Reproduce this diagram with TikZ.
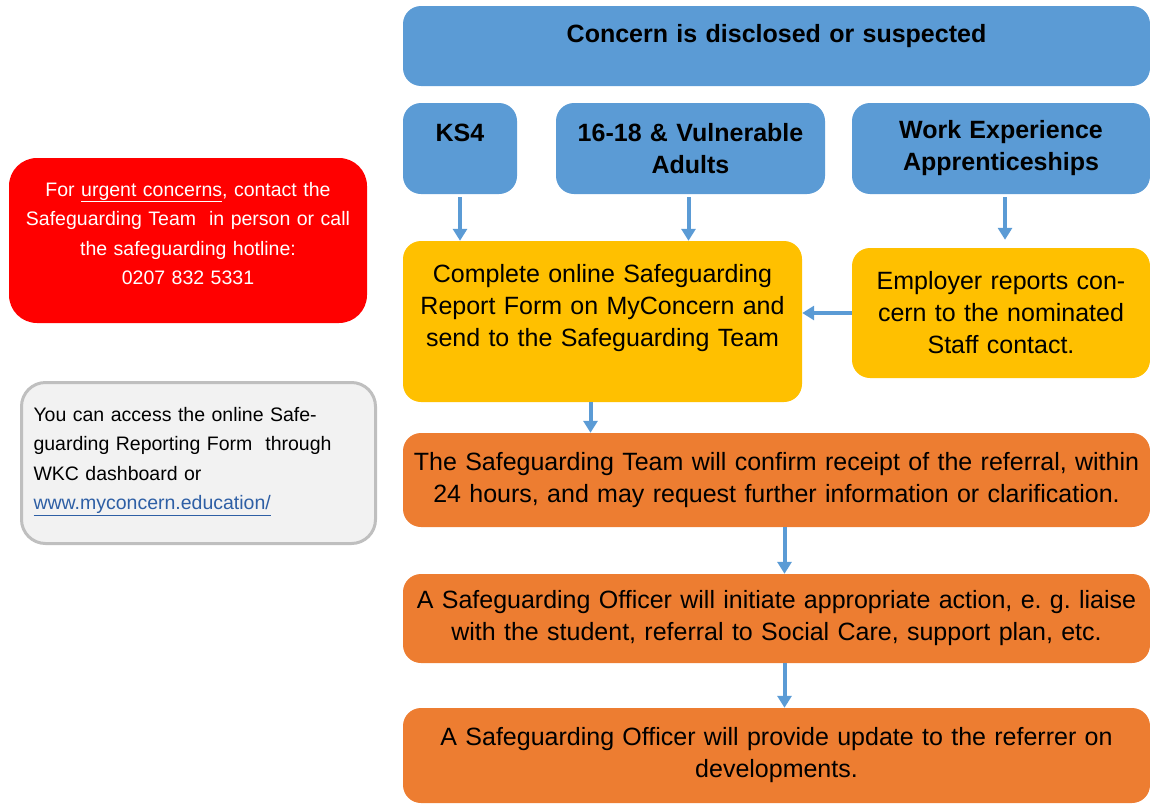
\documentclass[tikz,border=0pt]{standalone}
\usepackage{fontspec}
\setmainfont{Liberation Sans}
\usetikzlibrary{arrows.meta,positioning}
\definecolor{sgblue}{HTML}{5B9BD5}
\definecolor{sgyellow}{HTML}{FFC000}
\definecolor{sgorange}{HTML}{ED7D31}
\definecolor{sgred}{HTML}{FF0000}
\definecolor{sggrey}{HTML}{F2F2F2}
\definecolor{sgedge}{HTML}{BFBFBF}
\definecolor{sglink}{HTML}{2E5FA5}

\begin{document}
\begin{tikzpicture}[x=1pt,y=-1pt,
      big/.style={font=\fontsize{25}{32}\selectfont},
      head/.style={font=\fontsize{25}{32}\selectfont\bfseries},
      small/.style={font=\fontsize{19.5}{29.5}\selectfont},
      b/.style={rounded corners=18pt,inner xsep=4pt,inner ysep=0pt,align=center},
      a/.style={-{Triangle[width=14pt,length=12pt]},line width=4pt,sgblue}]
      \useasboundingbox (0,0) rectangle (1150,803);
      % top row
      \node[b,head,fill=sgblue,text width=739pt,minimum height=80pt] (top) at (776.5,46) {Concern is disclosed or suspected\\[-6pt]~};
      \node[b,head,fill=sgblue,text width=106pt,minimum height=91pt] (ks4) at (460,148.5) {KS4\\~};
      \node[b,head,fill=sgblue,text width=261pt,minimum height=91pt] (adults) at (690.5,148.5) {16-18 \& Vulnerable\\Adults};
      \node[b,head,fill=sgblue,text width=290pt,minimum height=91pt] (work) at (1001,148.5) {Work Experience\\Apprenticeships};
      % reporting
      \node[b,big,fill=sgyellow,text width=391pt,minimum height=161pt] (online) at (602.5,321.5) {Complete online Safeguarding\\Report Form on MyConcern and\\send to the Safeguarding Team\\~};
      \node[b,big,fill=sgyellow,text width=290pt,minimum height=130pt] (employer) at (1001,313) {Employer reports con-\\cern to the nominated\\Staff contact.};
      % follow-up
      \node[b,big,fill=sgorange,text width=739pt,minimum height=94pt] (confirm) at (776.5,480) {The Safeguarding Team will confirm receipt of the referral, within\\24 hours, and may request further information or clarification.};
      \node[b,big,fill=sgorange,text width=739pt,minimum height=89pt] (action) at (776.5,618.5) {A Safeguarding Officer will initiate appropriate action, e.\ g.\ liaise\\with the student, referral to Social Care, support plan, etc.};
      \node[b,big,fill=sgorange,text width=739pt,minimum height=95pt] (update) at (776.5,755.5) {A Safeguarding Officer will provide update to the referrer on\\developments.};
      % side notes
      \node[b,small,rounded corners=28pt,fill=sgred,text=white,text width=350pt,minimum height=165pt] (urgent) at (188,240.5) {For \underline{urgent concerns}, contact the\\Safeguarding Team\ \ in person or call\\the safeguarding hotline:\\0207 832 5331\\[-15pt]\mbox{}};
      \node[b,small,rounded corners=24pt,draw=sgedge,line width=3pt,fill=sggrey,align=left,inner xsep=12pt,text width=330pt,minimum height=161pt] (access) at (198.5,463) {You can access the online Safe-\\guarding Reporting Form\ \ through\\WKC dashboard or\\\textcolor{sglink}{\underline{www.myconcern.education/}}\\[-20pt]\mbox{}};
      % arrows
      \draw[a,shorten <=3pt] (ks4.south) -- (ks4.south |- online.north);
      \draw[a,shorten <=3pt] ([xshift=-2pt]adults.south) -- ([xshift=-2pt]adults.south |- online.north);
      \draw[a,shorten <=3pt,shorten >=8pt] ([xshift=4pt]work.south) -- ([xshift=4pt]work.south |- employer.north);
      \draw[a] (employer.west) -- (employer.west -| online.east);
      \draw[a] ([xshift=-12pt]online.south) -- ([xshift=-12pt]online.south |- confirm.north);
      \draw[a] ([xshift=8pt]confirm.south) -- ([xshift=8pt]confirm.south |- action.north);
      \draw[a] ([xshift=8pt]action.south) -- ([xshift=8pt]action.south |- update.north);
    \end{tikzpicture}
\end{document}
